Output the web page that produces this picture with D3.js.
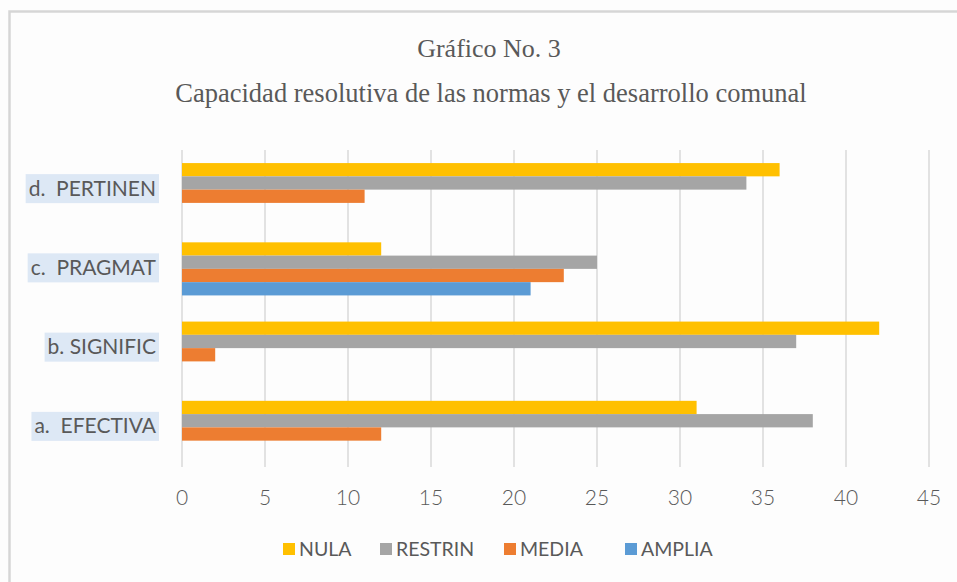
<!DOCTYPE html>
<html>
<head>
<meta charset="utf-8">
<script src="https://cdn.jsdelivr.net/npm/d3@7"></script>
<style>
  html, body { margin: 0; padding: 0; background: #fff; }
  svg { display: block; }
</style>
</head>
<body>
<div id="chart"></div>
<script>
// Data (categories top to bottom as drawn)
const categories = ["d.  PERTINEN", "c.  PRAGMAT", "b. SIGNIFIC", "a.  EFECTIVA"];
const seriesNames = ["NULA", "RESTRIN", "MEDIA", "AMPLIA"];
const nulaValues    = [36, 12, 42, 31];
const restrinValues = [34, 25, 37, 38];
const mediaValues   = [11, 23, 2, 12];
const ampliaValues  = [0, 21, 0, 0];
const xTicks = [0, 5, 10, 15, 20, 25, 30, 35, 40, 45];
const titleText = "Gráfico No. 3";
const subtitleText = "Capacidad resolutiva de las normas y el desarrollo comunal";

const colors = { NULA: "#FFC000", RESTRIN: "#A5A5A5", MEDIA: "#ED7D31", AMPLIA: "#5B9BD5" };
const valuesBySeries = { NULA: nulaValues, RESTRIN: restrinValues, MEDIA: mediaValues, AMPLIA: ampliaValues };

const width = 957, height = 582;
const plot = { left: 182, right: 929, top: 150, bottom: 467 };
const textColor = "#595959";
const sansFont = "Lato, 'Open Sans', sans-serif";

const rows = [];
categories.forEach((c, i) => {
  seriesNames.forEach((s) => rows.push({ category: c, series: s, value: valuesBySeries[s][i] }));
});

const svg = d3.select("#chart").append("svg")
  .attr("width", width)
  .attr("height", height);

svg.append("rect").attr("width", width).attr("height", height).attr("fill", "#fdfdfd");

// chart area frame (only left and top visible)
svg.append("path")
  .attr("d", `M9.5,${height + 5} V11.5 H${width + 5}`)
  .attr("fill", "none")
  .attr("stroke", "#d6d6d6")
  .attr("stroke-width", 2.5);

// Scales
const x = d3.scaleLinear().domain([0, 45]).range([plot.left, plot.right]);
const y = d3.scaleBand().domain(categories).range([plot.top, plot.bottom])
  .paddingInner(0.33).paddingOuter(0.165);
const ySub = d3.scaleBand().domain(seriesNames).range([0, y.bandwidth()]);

// Gridlines
svg.append("g").attr("class", "grid")
  .selectAll("line")
  .data(xTicks)
  .join("line")
  .attr("x1", (d) => x(d)).attr("x2", (d) => x(d))
  .attr("y1", plot.top).attr("y2", plot.bottom)
  .attr("stroke", "#d9d9d9")
  .attr("stroke-width", 1.5);

// Bars
svg.append("g").attr("class", "bars")
  .selectAll("rect")
  .data(rows.filter((d) => d.value > 0))
  .join("rect")
  .attr("x", x(0))
  .attr("y", (d) => y(d.category) + ySub(d.series))
  .attr("width", (d) => x(d.value) - x(0))
  .attr("height", ySub.bandwidth())
  .attr("fill", (d) => colors[d.series]);

// X axis labels
svg.append("g").attr("class", "x-axis")
  .selectAll("text")
  .data(xTicks)
  .join("text")
  .attr("x", (d) => x(d))
  .attr("y", 505)
  .attr("text-anchor", "middle")
  .attr("font-family", sansFont)
  .attr("font-weight", 300)
  .attr("font-size", "21px")
  .attr("fill", textColor)
  .text((d) => d);

// Y labels with highlight boxes
const yLabels = svg.append("g").attr("class", "y-axis");
categories.forEach((c) => {
  const g = yLabels.append("g");
  const bg = g.append("rect").attr("fill", "#dde8f5");
  const cy = y(c) + y.bandwidth() / 2 - 1;
  const t = g.append("text")
    .attr("x", 156)
    .attr("y", cy + 7)
    .attr("text-anchor", "end")
    .attr("font-family", sansFont)
    .attr("font-size", "21px")
    .attr("fill", textColor)
    .style("white-space", "pre")
    .text(c);
  const b = t.node().getBBox();
  bg.attr("x", b.x - 3).attr("y", cy - 14.5).attr("width", 159 - b.x + 3).attr("height", 29);
});

// Titles
svg.append("text")
  .attr("x", 489).attr("y", 57)
  .attr("text-anchor", "middle")
  .attr("font-family", "'Liberation Serif', serif")
  .attr("font-size", "26px")
  .attr("fill", textColor)
  .text(titleText);

svg.append("text")
  .attr("x", 491).attr("y", 102)
  .attr("text-anchor", "middle")
  .attr("font-family", "'Liberation Serif', serif")
  .attr("font-size", "26.5px")
  .attr("fill", textColor)
  .text(subtitleText);

// Legend
const legendX = [283, 380, 504, 625];
const legend = svg.append("g").attr("class", "legend");
seriesNames.forEach((s, i) => {
  legend.append("rect")
    .attr("x", legendX[i]).attr("y", 543)
    .attr("width", 12).attr("height", 12)
    .attr("fill", colors[s]);
  legend.append("text")
    .attr("x", legendX[i] + 16).attr("y", 556)
    .attr("font-family", sansFont)
    .attr("font-size", "19.5px")
    .attr("fill", textColor)
    .text(s);
});
</script>
</body>
</html>
